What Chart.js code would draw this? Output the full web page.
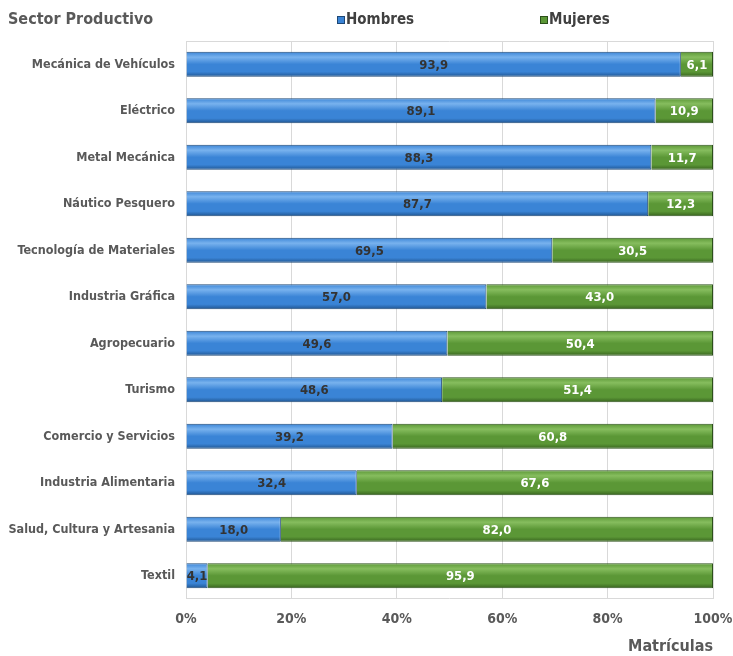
<!DOCTYPE html>
<html>
<head>
<meta charset="utf-8">
<script src="https://cdn.jsdelivr.net/npm/chart.js@4"></script>
<style>
  html, body { margin: 0; padding: 0; background: #fff; }
</style>
</head>
<body>
<canvas id="grafico" width="733" height="656"></canvas>
<script>
// datos (porcentaje de matriculas por sexo)
const sectores = [
  "Mecánica de Vehículos", "Eléctrico", "Metal Mecánica", "Náutico Pesquero",
  "Tecnología de Materiales", "Industria Gráfica", "Agropecuario", "Turismo",
  "Comercio y Servicios", "Industria Alimentaria", "Salud, Cultura y Artesania", "Textil"
];
const hombres = [93.9, 89.1, 88.3, 87.7, 69.5, 57.0, 49.6, 48.6, 39.2, 32.4, 18.0, 4.1];
const mujeres = [6.1, 10.9, 11.7, 12.3, 30.5, 43.0, 50.4, 51.4, 60.8, 67.6, 82.0, 95.9];
const ticksX = [0, 20, 40, 60, 80, 100];

const FUENTE = '"DejaVu Sans Condensed", "Liberation Sans Narrow", sans-serif';
const GRIS = "#595959";

const colores = {
  azul: { claro: "#78b2ee", medio: "#3a84d6", oscuro: "#1f548f", borde: "#1d4775" },
  verde: { claro: "#86bd5e", medio: "#5b9736", oscuro: "#37621e", borde: "#2c501a" }
};

function degradado(c, col) {
  const chart = c.chart;
  if (!chart.chartArea) return col.medio;
  const y = chart.scales.y.getPixelForValue(c.dataIndex);
  const alto = chart.scales.y.height / sectores.length * 0.54;
  const g = chart.ctx.createLinearGradient(0, y - alto / 2, 0, y + alto / 2);
  g.addColorStop(0, col.medio);
  g.addColorStop(0.22, col.claro);
  g.addColorStop(0.5, col.medio);
  g.addColorStop(0.8, col.medio);
  g.addColorStop(1, col.oscuro);
  return g;
}

const extras = {
  id: "extras",
  beforeDatasetsDraw(chart) {
    const { ctx, chartArea: a } = chart;
    ctx.save();
    ctx.strokeStyle = "#d9d9d9";
    ctx.lineWidth = 1;
    ctx.beginPath();
    ctx.moveTo(a.left, a.top + 0.5);
    ctx.lineTo(a.right, a.top + 0.5);
    ctx.moveTo(a.left, a.bottom - 0.5);
    ctx.lineTo(a.right, a.bottom - 0.5);
    ctx.stroke();
    ctx.restore();
  },
  afterDatasetsDraw(chart) {
    const ctx = chart.ctx;
    ctx.save();
    ctx.font = "bold 13px " + FUENTE;
    ctx.textAlign = "center";
    ctx.textBaseline = "middle";
    chart.data.datasets.forEach((ds, i) => {
      const meta = chart.getDatasetMeta(i);
      meta.data.forEach((bar, j) => {
        const txt = ds.data[j].toFixed(1).replace(".", ",");
        ctx.fillStyle = i === 0 ? "#333333" : "#ffffff";
        ctx.fillText(txt, (bar.x + bar.base) / 2, bar.y + 1);
      });
    });
    ctx.restore();
  },
  afterDraw(chart) {
    const ctx = chart.ctx;
    ctx.save();
    ctx.textBaseline = "middle";
    ctx.textAlign = "left";
    ctx.fillStyle = GRIS;
    ctx.font = "bold 16px " + FUENTE;
    ctx.fillText("Sector Productivo", 8, 20);
    // leyenda
    const posX = [337, 540];
    const cols = [colores.azul, colores.verde];
    ctx.font = "bold 15px " + FUENTE;
    chart.data.datasets.forEach((ds, i) => {
      ctx.fillStyle = cols[i].medio;
      ctx.fillRect(posX[i], 16, 8, 8);
      ctx.strokeStyle = cols[i].borde;
      ctx.strokeRect(posX[i] + 0.5, 16.5, 7, 7);
      ctx.fillStyle = "#404040";
      ctx.fillText(ds.label, posX[i] + 9, 20);
    });
    ctx.restore();
  }
};

new Chart(document.getElementById("grafico"), {
  type: "bar",
  data: {
    labels: sectores,
    datasets: [
      {
        label: "Hombres",
        data: hombres,
        backgroundColor: c => degradado(c, colores.azul),
        borderColor: colores.azul.borde,
        borderWidth: 1
      },
      {
        label: "Mujeres",
        data: mujeres,
        backgroundColor: c => degradado(c, colores.verde),
        borderColor: colores.verde.borde,
        borderWidth: 1
      }
    ]
  },
  options: {
    indexAxis: "y",
    responsive: false,
    animation: false,
    barPercentage: 0.54,
    categoryPercentage: 1,
    layout: { padding: { top: 41, right: 20, left: 0, bottom: 0 } },
    plugins: {
      legend: { display: false },
      title: { display: false },
      tooltip: { enabled: false }
    },
    scales: {
      x: {
        stacked: true,
        min: 0,
        max: 100,
        afterBuildTicks: s => { s.ticks = ticksX.map(v => ({ value: v })); },
        afterFit: s => { s.height = 57; s.paddingRight = 0; s.paddingLeft = 0; },
        ticks: {
          callback: v => v + "%",
          color: GRIS,
          font: { family: FUENTE, size: 14, weight: "bold" },
          padding: 12
        },
        grid: { color: "#d9d9d9", drawTicks: false },
        border: { display: false },
        title: {
          display: true,
          text: "Matrículas",
          align: "end",
          color: GRIS,
          font: { family: FUENTE, size: 16, weight: "bold" },
          padding: { top: 6, bottom: 0 }
        }
      },
      y: {
        stacked: true,
        afterFit: s => { s.width = 186; },
        grid: { display: false, drawTicks: false },
        border: { display: false },
        ticks: {
          color: GRIS,
          font: { family: FUENTE, size: 12.5, weight: "bold" },
          padding: 11
        }
      }
    }
  },
  plugins: [extras]
});
</script>
</body>
</html>
